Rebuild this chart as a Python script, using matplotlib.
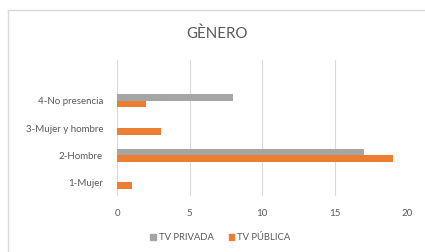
import numpy as np
import matplotlib
matplotlib.use("Agg")
import matplotlib.pyplot as plt
from matplotlib.lines import Line2D
from matplotlib.patches import Patch

categories = ["1-Mujer", "2-Hombre", "3-Mujer y hombre", "4-No presencia", ""]
tv_privada = [0, 17, 0, 8, 0]
tv_publica = [1, 19, 3, 2, 0]
xticks = [0, 5, 10, 15, 20]

GRAY = "#A5A5A5"
ORANGE = "#ED7D31"
TEXT = "#595959"

plt.rcParams['font.family'] = ['Lato', 'DejaVu Sans']

fig = plt.figure(figsize=(4.25, 2.52), dpi=100)
ax = fig.add_axes([0.2753, 0.222, 0.6824, 0.540])

y = np.arange(len(categories))
h = 0.24
ax.barh(y + h / 2, tv_privada, height=h, color=GRAY, label="TV PRIVADA", zorder=3)
ax.barh(y - h / 2, tv_publica, height=h, color=ORANGE, label="TV PÚBLICA", zorder=3)

ax.set_xlim(0, 20)
ax.set_ylim(-0.5, len(categories) - 0.5)
ax.set_xticks(xticks)
ax.set_yticks(y)
ax.set_yticklabels(categories)
ax.tick_params(axis="y", length=0, labelsize=7, colors=TEXT, pad=10)
ax.tick_params(axis="x", length=0, labelsize=7, colors=TEXT, pad=9)
ax.grid(axis="x", color="#D9D9D9", lw=0.8, zorder=0)
for s in ax.spines.values():
    s.set_visible(False)

fig.text(0.511, 0.868, "GÈNERO", ha="center", va="center", fontsize=10.8, color=TEXT)

handles = [Patch(color=GRAY), Patch(color=ORANGE)]
fig.legend(handles, ["TV PRIVADA", "TV PÚBLICA"], loc="center", bbox_to_anchor=(0.518, 0.058),
           ncol=2, frameon=False, fontsize=6.8, labelcolor=TEXT, handlelength=0.6,
           handleheight=0.6, handletextpad=0.3, columnspacing=1.6)

# chart border
fig.add_artist(Line2D([7.5 / 425, 1], [1 - 9.5 / 252] * 2, transform=fig.transFigure, color="#D9D9D9", lw=1))
fig.add_artist(Line2D([7.5 / 425] * 2, [0, 1 - 9.5 / 252], transform=fig.transFigure, color="#D9D9D9", lw=1))

fig.savefig("out.png", dpi=100)
